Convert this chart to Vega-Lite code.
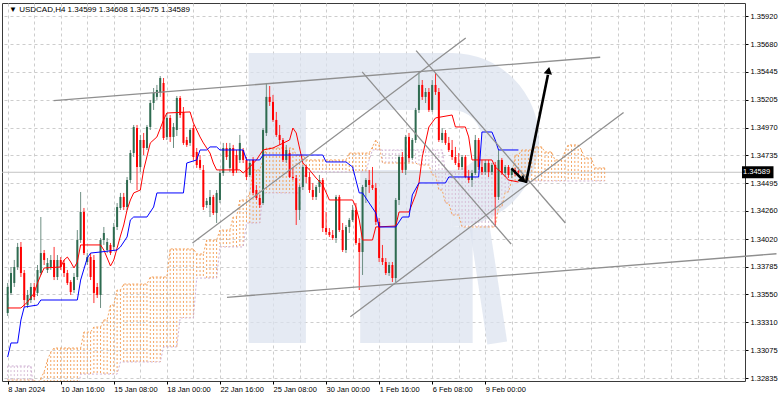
{
"$schema": "https://vega.github.io/schema/vega-lite/v6.json",
"width": 743, "height": 378,
"autosize": {"type": "none"},
"padding": {"left": 2, "top": 3, "right": 37, "bottom": 15},
"background": "white",
"config": {"view": {"stroke": "#3a3a3a", "strokeWidth": 1}, "font": "Liberation Sans",
 "axis": {"labelOverlap": false, "labelFlush": false, "labelBound": false}},
"data": {"values": [{}]},
"datasets": {
"bars": [
{"i":0,"o":1.33390,"h":1.33646,"l":1.33365,"c":1.33612},
{"i":1,"o":1.33561,"h":1.33782,"l":1.33544,"c":1.33731},
{"i":2,"o":1.33646,"h":1.33842,"l":1.33612,"c":1.33782},
{"i":3,"o":1.33782,"h":1.33987,"l":1.33757,"c":1.33953},
{"i":4,"o":1.33953,"h":1.33995,"l":1.33697,"c":1.33731},
{"i":5,"o":1.33731,"h":1.33757,"l":1.33441,"c":1.33501},
{"i":6,"o":1.33458,"h":1.33586,"l":1.33433,"c":1.33544},
{"i":7,"o":1.33501,"h":1.33646,"l":1.33475,"c":1.33612},
{"i":8,"o":1.33612,"h":1.33646,"l":1.33501,"c":1.33527},
{"i":9,"o":1.33561,"h":1.33799,"l":1.33535,"c":1.33757},
{"i":10,"o":1.33731,"h":1.34208,"l":1.33714,"c":1.33901},
{"i":11,"o":1.33901,"h":1.33927,"l":1.33799,"c":1.33842},
{"i":12,"o":1.33757,"h":1.33859,"l":1.33731,"c":1.33816},
{"i":13,"o":1.33782,"h":1.33884,"l":1.33757,"c":1.33842},
{"i":14,"o":1.33842,"h":1.33953,"l":1.33671,"c":1.33697},
{"i":15,"o":1.33697,"h":1.33884,"l":1.33671,"c":1.33842},
{"i":16,"o":1.33842,"h":1.33867,"l":1.33757,"c":1.33782},
{"i":17,"o":1.33816,"h":1.33842,"l":1.33697,"c":1.33731},
{"i":18,"o":1.33731,"h":1.33757,"l":1.33629,"c":1.33646},
{"i":19,"o":1.33654,"h":1.33671,"l":1.33544,"c":1.33569},
{"i":20,"o":1.33586,"h":1.33731,"l":1.33561,"c":1.33697},
{"i":21,"o":1.33697,"h":1.34097,"l":1.33671,"c":1.34012},
{"i":22,"o":1.34012,"h":1.34421,"l":1.33987,"c":1.34251},
{"i":23,"o":1.34251,"h":1.34285,"l":1.33884,"c":1.33901},
{"i":24,"o":1.33825,"h":1.33901,"l":1.33799,"c":1.33867},
{"i":25,"o":1.33867,"h":1.33901,"l":1.33671,"c":1.33697},
{"i":26,"o":1.33842,"h":1.33884,"l":1.33475,"c":1.33561},
{"i":27,"o":1.33612,"h":1.33646,"l":1.33518,"c":1.33544},
{"i":28,"o":1.33544,"h":1.34029,"l":1.33433,"c":1.34012},
{"i":29,"o":1.34012,"h":1.34123,"l":1.33970,"c":1.34072},
{"i":30,"o":1.33927,"h":1.34029,"l":1.33901,"c":1.33995},
{"i":31,"o":1.33970,"h":1.33987,"l":1.33884,"c":1.33901},
{"i":32,"o":1.33953,"h":1.34157,"l":1.33927,"c":1.34123},
{"i":33,"o":1.34123,"h":1.34327,"l":1.34097,"c":1.34293},
{"i":34,"o":1.34285,"h":1.34413,"l":1.34268,"c":1.34379},
{"i":35,"o":1.34379,"h":1.34413,"l":1.34268,"c":1.34293},
{"i":36,"o":1.34293,"h":1.34549,"l":1.34268,"c":1.34523},
{"i":37,"o":1.34523,"h":1.34779,"l":1.34498,"c":1.34753},
{"i":38,"o":1.34753,"h":1.34992,"l":1.34719,"c":1.34975},
{"i":39,"o":1.34966,"h":1.34992,"l":1.34438,"c":1.34634},
{"i":40,"o":1.34634,"h":1.34907,"l":1.34592,"c":1.34864},
{"i":41,"o":1.34864,"h":1.34924,"l":1.34736,"c":1.34796},
{"i":42,"o":1.34796,"h":1.34992,"l":1.34779,"c":1.34975},
{"i":43,"o":1.34975,"h":1.35205,"l":1.34949,"c":1.35179},
{"i":44,"o":1.35179,"h":1.35307,"l":1.35120,"c":1.35265},
{"i":45,"o":1.35231,"h":1.35333,"l":1.35205,"c":1.35290},
{"i":46,"o":1.35265,"h":1.35409,"l":1.35231,"c":1.35392},
{"i":47,"o":1.35350,"h":1.35392,"l":1.34864,"c":1.34881},
{"i":48,"o":1.34890,"h":1.35094,"l":1.34864,"c":1.35052},
{"i":49,"o":1.35052,"h":1.35077,"l":1.34847,"c":1.34890},
{"i":50,"o":1.34890,"h":1.35009,"l":1.34796,"c":1.34975},
{"i":51,"o":1.34949,"h":1.35239,"l":1.34898,"c":1.35222},
{"i":52,"o":1.35222,"h":1.35239,"l":1.35052,"c":1.35077},
{"i":53,"o":1.35103,"h":1.35145,"l":1.34822,"c":1.34839},
{"i":54,"o":1.34864,"h":1.34890,"l":1.34805,"c":1.34822},
{"i":55,"o":1.34839,"h":1.34966,"l":1.34813,"c":1.34949},
{"i":56,"o":1.34966,"h":1.34992,"l":1.34694,"c":1.34719},
{"i":57,"o":1.34762,"h":1.34796,"l":1.34626,"c":1.34651},
{"i":58,"o":1.34694,"h":1.34736,"l":1.34609,"c":1.34626},
{"i":59,"o":1.34609,"h":1.34651,"l":1.34268,"c":1.34293},
{"i":60,"o":1.34310,"h":1.34370,"l":1.34285,"c":1.34345},
{"i":61,"o":1.34310,"h":1.34438,"l":1.34208,"c":1.34379},
{"i":62,"o":1.34379,"h":1.34396,"l":1.34225,"c":1.34242},
{"i":63,"o":1.34242,"h":1.34438,"l":1.34157,"c":1.34413},
{"i":64,"o":1.34353,"h":1.34609,"l":1.34327,"c":1.34583},
{"i":65,"o":1.34583,"h":1.34839,"l":1.34558,"c":1.34796},
{"i":66,"o":1.34796,"h":1.34839,"l":1.34694,"c":1.34719},
{"i":67,"o":1.34626,"h":1.34839,"l":1.34592,"c":1.34796},
{"i":68,"o":1.34796,"h":1.34822,"l":1.34558,"c":1.34583},
{"i":69,"o":1.34736,"h":1.34779,"l":1.34583,"c":1.34609},
{"i":70,"o":1.34694,"h":1.34907,"l":1.34668,"c":1.34839},
{"i":71,"o":1.34779,"h":1.34796,"l":1.34668,"c":1.34694},
{"i":72,"o":1.34694,"h":1.34719,"l":1.34523,"c":1.34549},
{"i":73,"o":1.34566,"h":1.34694,"l":1.34549,"c":1.34668},
{"i":74,"o":1.34694,"h":1.34719,"l":1.34396,"c":1.34413},
{"i":75,"o":1.34438,"h":1.34481,"l":1.34353,"c":1.34370},
{"i":76,"o":1.34370,"h":1.34396,"l":1.34285,"c":1.34310},
{"i":77,"o":1.34327,"h":1.34966,"l":1.34310,"c":1.34949},
{"i":78,"o":1.34924,"h":1.35350,"l":1.34898,"c":1.35231},
{"i":79,"o":1.35231,"h":1.35324,"l":1.35154,"c":1.35188},
{"i":80,"o":1.35188,"h":1.35248,"l":1.35018,"c":1.35035},
{"i":81,"o":1.35035,"h":1.35103,"l":1.34890,"c":1.34907},
{"i":82,"o":1.34907,"h":1.34992,"l":1.34822,"c":1.34864},
{"i":83,"o":1.34864,"h":1.34881,"l":1.34677,"c":1.34694},
{"i":84,"o":1.34694,"h":1.34822,"l":1.34668,"c":1.34779},
{"i":85,"o":1.34753,"h":1.34779,"l":1.34540,"c":1.34549},
{"i":86,"o":1.34549,"h":1.34626,"l":1.34523,"c":1.34540},
{"i":87,"o":1.34540,"h":1.34566,"l":1.34140,"c":1.34268},
{"i":88,"o":1.34268,"h":1.34481,"l":1.34183,"c":1.34464},
{"i":89,"o":1.34464,"h":1.34651,"l":1.34438,"c":1.34634},
{"i":90,"o":1.34634,"h":1.34651,"l":1.34498,"c":1.34549},
{"i":91,"o":1.34549,"h":1.34592,"l":1.34413,"c":1.34438},
{"i":92,"o":1.34438,"h":1.34498,"l":1.34353,"c":1.34379},
{"i":93,"o":1.34379,"h":1.34481,"l":1.34353,"c":1.34464},
{"i":94,"o":1.34464,"h":1.34566,"l":1.34413,"c":1.34523},
{"i":95,"o":1.34523,"h":1.34540,"l":1.34080,"c":1.34114},
{"i":96,"o":1.34114,"h":1.34251,"l":1.34055,"c":1.34080},
{"i":97,"o":1.34080,"h":1.34114,"l":1.34038,"c":1.34055},
{"i":98,"o":1.34055,"h":1.34097,"l":1.34012,"c":1.34029},
{"i":99,"o":1.34029,"h":1.34396,"l":1.33987,"c":1.34379},
{"i":100,"o":1.34379,"h":1.34396,"l":1.34080,"c":1.34097},
{"i":101,"o":1.34097,"h":1.34157,"l":1.33910,"c":1.33927},
{"i":102,"o":1.33927,"h":1.34140,"l":1.33901,"c":1.34123},
{"i":103,"o":1.34123,"h":1.34200,"l":1.34072,"c":1.34183},
{"i":104,"o":1.34183,"h":1.34310,"l":1.34166,"c":1.34268},
{"i":105,"o":1.34268,"h":1.34327,"l":1.33970,"c":1.33987},
{"i":106,"o":1.33987,"h":1.34029,"l":1.33586,"c":1.33910},
{"i":107,"o":1.33910,"h":1.34481,"l":1.33714,"c":1.34464},
{"i":108,"o":1.34464,"h":1.34540,"l":1.34327,"c":1.34523},
{"i":109,"o":1.34523,"h":1.34609,"l":1.34413,"c":1.34481},
{"i":110,"o":1.34481,"h":1.34634,"l":1.34438,"c":1.34455},
{"i":111,"o":1.34455,"h":1.34498,"l":1.34140,"c":1.34166},
{"i":112,"o":1.34166,"h":1.34200,"l":1.33825,"c":1.33859},
{"i":113,"o":1.33859,"h":1.33970,"l":1.33799,"c":1.33825},
{"i":114,"o":1.33825,"h":1.33859,"l":1.33714,"c":1.33731},
{"i":115,"o":1.33731,"h":1.33825,"l":1.33706,"c":1.33799},
{"i":116,"o":1.33799,"h":1.33825,"l":1.33654,"c":1.33688},
{"i":117,"o":1.33688,"h":1.34370,"l":1.33654,"c":1.34353},
{"i":118,"o":1.34353,"h":1.34736,"l":1.34310,"c":1.34719},
{"i":119,"o":1.34719,"h":1.34762,"l":1.34583,"c":1.34609},
{"i":120,"o":1.34609,"h":1.34907,"l":1.34566,"c":1.34890},
{"i":121,"o":1.34890,"h":1.34924,"l":1.34677,"c":1.34711},
{"i":122,"o":1.34711,"h":1.34881,"l":1.34694,"c":1.34864},
{"i":123,"o":1.34864,"h":1.35137,"l":1.34839,"c":1.35120},
{"i":124,"o":1.35120,"h":1.35444,"l":1.35094,"c":1.35333},
{"i":125,"o":1.35333,"h":1.35375,"l":1.35205,"c":1.35231},
{"i":126,"o":1.35231,"h":1.35307,"l":1.35179,"c":1.35273},
{"i":127,"o":1.35273,"h":1.35307,"l":1.35103,"c":1.35120},
{"i":128,"o":1.35120,"h":1.35375,"l":1.35103,"c":1.35333},
{"i":129,"o":1.35333,"h":1.35435,"l":1.35248,"c":1.35273},
{"i":130,"o":1.35273,"h":1.35307,"l":1.34847,"c":1.34864},
{"i":131,"o":1.34864,"h":1.34966,"l":1.34839,"c":1.34924},
{"i":132,"o":1.34924,"h":1.34949,"l":1.34822,"c":1.34839},
{"i":133,"o":1.34839,"h":1.34890,"l":1.34762,"c":1.34779},
{"i":134,"o":1.34779,"h":1.34864,"l":1.34694,"c":1.34719},
{"i":135,"o":1.34719,"h":1.34805,"l":1.34651,"c":1.34668},
{"i":136,"o":1.34668,"h":1.34753,"l":1.34609,"c":1.34634},
{"i":137,"o":1.34634,"h":1.34736,"l":1.34609,"c":1.34719},
{"i":138,"o":1.34719,"h":1.34736,"l":1.34540,"c":1.34549},
{"i":139,"o":1.34549,"h":1.34609,"l":1.34498,"c":1.34523},
{"i":140,"o":1.34523,"h":1.34609,"l":1.34464,"c":1.34583},
{"i":141,"o":1.34583,"h":1.34907,"l":1.34566,"c":1.34864},
{"i":142,"o":1.34864,"h":1.34881,"l":1.34609,"c":1.34634},
{"i":143,"o":1.34634,"h":1.34694,"l":1.34566,"c":1.34592},
{"i":144,"o":1.34592,"h":1.34694,"l":1.34566,"c":1.34668},
{"i":145,"o":1.34668,"h":1.34694,"l":1.34549,"c":1.34592},
{"i":146,"o":1.34592,"h":1.34668,"l":1.34566,"c":1.34651},
{"i":147,"o":1.34651,"h":1.34677,"l":1.34123,"c":1.34379},
{"i":148,"o":1.34379,"h":1.34779,"l":1.34353,"c":1.34694},
{"i":149,"o":1.34694,"h":1.34711,"l":1.34566,"c":1.34583},
{"i":150,"o":1.34583,"h":1.34651,"l":1.34549,"c":1.34634},
{"i":151,"o":1.34634,"h":1.34651,"l":1.34540,"c":1.34566},
{"i":152,"o":1.34566,"h":1.34626,"l":1.34540,"c":1.34609},
{"i":153,"o":1.34609,"h":1.34626,"l":1.34558,"c":1.34575},
{"i":154,"o":1.34599,"h":1.34608,"l":1.34575,"c":1.34589}
],
"cloud": [
{"i":0,"a":1.32819,"b":1.32939},{"i":1,"a":1.32819,"b":1.32939},{"i":2,"a":1.32819,"b":1.32939},{"i":3,"a":1.32819,"b":1.32939},
{"i":4,"a":1.32819,"b":1.32939},{"i":5,"a":1.32819,"b":1.32939},{"i":6,"a":1.32819,"b":1.32939},{"i":7,"a":1.32819,"b":1.32939},
{"i":8,"a":1.32819,"b":1.32692},{"i":9,"a":1.32794,"b":1.32692},{"i":10,"a":1.32836,"b":1.32692},{"i":11,"a":1.32888,"b":1.32692},
{"i":12,"a":1.32990,"b":1.32692},{"i":13,"a":1.33058,"b":1.32692},{"i":14,"a":1.33092,"b":1.32692},{"i":15,"a":1.33092,"b":1.32692},
{"i":16,"a":1.33092,"b":1.32692},{"i":17,"a":1.33092,"b":1.32692},{"i":18,"a":1.33092,"b":1.32692},{"i":19,"a":1.33092,"b":1.32692},
{"i":20,"a":1.33092,"b":1.32692},{"i":21,"a":1.33092,"b":1.32692},{"i":22,"a":1.33092,"b":1.32870},{"i":23,"a":1.33228,"b":1.32870},
{"i":24,"a":1.33228,"b":1.32870},{"i":25,"a":1.33228,"b":1.32870},{"i":26,"a":1.33271,"b":1.32870},{"i":27,"a":1.33271,"b":1.32870},
{"i":28,"a":1.33271,"b":1.32870},{"i":29,"a":1.33331,"b":1.32870},{"i":30,"a":1.33331,"b":1.32870},{"i":31,"a":1.33458,"b":1.32870},
{"i":32,"a":1.33458,"b":1.32870},{"i":33,"a":1.33586,"b":1.32870},{"i":34,"a":1.33586,"b":1.32973},{"i":35,"a":1.33637,"b":1.32973},
{"i":36,"a":1.33637,"b":1.32973},{"i":37,"a":1.33637,"b":1.32973},{"i":38,"a":1.33637,"b":1.32973},{"i":39,"a":1.33637,"b":1.32973},
{"i":40,"a":1.33637,"b":1.32973},{"i":41,"a":1.33637,"b":1.32973},{"i":42,"a":1.33637,"b":1.32973},{"i":43,"a":1.33697,"b":1.32973},
{"i":44,"a":1.33697,"b":1.32973},{"i":45,"a":1.33697,"b":1.32973},{"i":46,"a":1.33697,"b":1.32973},{"i":47,"a":1.33697,"b":1.33101},
{"i":48,"a":1.33697,"b":1.33101},{"i":49,"a":1.33936,"b":1.33101},{"i":50,"a":1.33936,"b":1.33101},{"i":51,"a":1.33936,"b":1.33101},
{"i":52,"a":1.33936,"b":1.33348},{"i":53,"a":1.33936,"b":1.33348},{"i":54,"a":1.33936,"b":1.33348},{"i":55,"a":1.33936,"b":1.33348},
{"i":56,"a":1.33936,"b":1.33348},{"i":57,"a":1.33893,"b":1.33688},{"i":58,"a":1.33893,"b":1.33688},{"i":59,"a":1.33893,"b":1.33688},
{"i":60,"a":1.34012,"b":1.33688},{"i":61,"a":1.34012,"b":1.33688},{"i":62,"a":1.34012,"b":1.33688},{"i":63,"a":1.34012,"b":1.33688},
{"i":64,"a":1.34097,"b":1.33953},{"i":65,"a":1.34097,"b":1.33953},{"i":66,"a":1.34097,"b":1.33953},{"i":67,"a":1.34097,"b":1.33953},
{"i":68,"a":1.34208,"b":1.33953},{"i":69,"a":1.34208,"b":1.33953},{"i":70,"a":1.34353,"b":1.33953},{"i":71,"a":1.34353,"b":1.33953},
{"i":72,"a":1.34353,"b":1.34157},{"i":73,"a":1.34413,"b":1.34157},{"i":74,"a":1.34609,"b":1.34157},{"i":75,"a":1.34609,"b":1.34157},
{"i":76,"a":1.34609,"b":1.34157},{"i":77,"a":1.34694,"b":1.34413},{"i":78,"a":1.34796,"b":1.34413},{"i":79,"a":1.34796,"b":1.34413},
{"i":80,"a":1.34796,"b":1.34413},{"i":81,"a":1.34796,"b":1.34413},{"i":82,"a":1.34796,"b":1.34413},{"i":83,"a":1.34796,"b":1.34413},
{"i":84,"a":1.34796,"b":1.34413},{"i":85,"a":1.34796,"b":1.34413},{"i":86,"a":1.34796,"b":1.34413},{"i":87,"a":1.34736,"b":1.34413},
{"i":88,"a":1.34736,"b":1.34413},{"i":89,"a":1.34736,"b":1.34523},{"i":90,"a":1.34694,"b":1.34592},{"i":91,"a":1.34694,"b":1.34592},
{"i":92,"a":1.34694,"b":1.34592},{"i":93,"a":1.34694,"b":1.34592},{"i":94,"a":1.34694,"b":1.34592},{"i":95,"a":1.34694,"b":1.34592},
{"i":96,"a":1.34694,"b":1.34592},{"i":97,"a":1.34694,"b":1.34592},{"i":98,"a":1.34694,"b":1.34592},{"i":99,"a":1.34694,"b":1.34592},
{"i":100,"a":1.34694,"b":1.34592},{"i":101,"a":1.34694,"b":1.34592},{"i":102,"a":1.34694,"b":1.34592},{"i":103,"a":1.34753,"b":1.34592},
{"i":104,"a":1.34753,"b":1.34592},{"i":105,"a":1.34753,"b":1.34592},{"i":106,"a":1.34753,"b":1.34592},{"i":107,"a":1.34753,"b":1.34592},
{"i":108,"a":1.34753,"b":1.34592},{"i":109,"a":1.34753,"b":1.34694},{"i":110,"a":1.34805,"b":1.34779},{"i":111,"a":1.34864,"b":1.34779},
{"i":112,"a":1.34822,"b":1.34779},{"i":113,"a":1.34668,"b":1.34779},{"i":114,"a":1.34668,"b":1.34779},{"i":115,"a":1.34668,"b":1.34779},
{"i":116,"a":1.34668,"b":1.34779},{"i":117,"a":1.34668,"b":1.34779},{"i":118,"a":1.34668,"b":1.34779},{"i":119,"a":1.34668,"b":1.34779},
{"i":120,"a":1.34668,"b":1.34779},{"i":121,"a":1.34668,"b":1.34779},{"i":122,"a":1.34668,"b":1.34779},{"i":123,"a":1.34668,"b":1.34779},
{"i":124,"a":1.34651,"b":1.34779},{"i":125,"a":1.34651,"b":1.34779},{"i":126,"a":1.34651,"b":1.34779},{"i":127,"a":1.34651,"b":1.34779},
{"i":128,"a":1.34566,"b":1.34779},{"i":129,"a":1.34566,"b":1.34779},{"i":130,"a":1.34438,"b":1.34779},{"i":131,"a":1.34438,"b":1.34779},
{"i":132,"a":1.34327,"b":1.34592},{"i":133,"a":1.34327,"b":1.34592},{"i":134,"a":1.34225,"b":1.34592},{"i":135,"a":1.34225,"b":1.34592},
{"i":136,"a":1.34225,"b":1.34592},{"i":137,"a":1.34123,"b":1.34592},{"i":138,"a":1.34123,"b":1.34592},{"i":139,"a":1.34123,"b":1.34592},
{"i":140,"a":1.34123,"b":1.34592},{"i":141,"a":1.34123,"b":1.34592},{"i":142,"a":1.34123,"b":1.34592},{"i":143,"a":1.34123,"b":1.34592},
{"i":144,"a":1.34123,"b":1.34592},{"i":145,"a":1.34123,"b":1.34592},{"i":146,"a":1.34123,"b":1.34592},{"i":147,"a":1.34123,"b":1.34592},
{"i":148,"a":1.34293,"b":1.34592},{"i":149,"a":1.34293,"b":1.34592},{"i":150,"a":1.34421,"b":1.34592},{"i":151,"a":1.34421,"b":1.34515},
{"i":152,"a":1.34523,"b":1.34515},{"i":153,"a":1.34736,"b":1.34515},{"i":154,"a":1.34736,"b":1.34515},{"i":155,"a":1.34779,"b":1.34515},
{"i":156,"a":1.34779,"b":1.34515},{"i":157,"a":1.34779,"b":1.34515},{"i":158,"a":1.34779,"b":1.34515},{"i":159,"a":1.34805,"b":1.34515},
{"i":160,"a":1.34805,"b":1.34515},{"i":161,"a":1.34805,"b":1.34515},{"i":162,"a":1.34762,"b":1.34515},{"i":163,"a":1.34762,"b":1.34515},
{"i":164,"a":1.34762,"b":1.34515},{"i":165,"a":1.34694,"b":1.34515},{"i":166,"a":1.34694,"b":1.34515},{"i":167,"a":1.34694,"b":1.34515},
{"i":168,"a":1.34762,"b":1.34515},{"i":169,"a":1.34822,"b":1.34515},{"i":170,"a":1.34822,"b":1.34515},{"i":171,"a":1.34822,"b":1.34515},
{"i":172,"a":1.34822,"b":1.34515},{"i":173,"a":1.34779,"b":1.34515},{"i":174,"a":1.34711,"b":1.34515},{"i":175,"a":1.34711,"b":1.34515},
{"i":176,"a":1.34711,"b":1.34515},{"i":177,"a":1.34626,"b":1.34515},{"i":178,"a":1.34626,"b":1.34515},{"i":179,"a":1.34626,"b":1.34515},
{"i":180,"a":1.34626,"b":1.34515}
],
"tenkan": [
{"i":0,"v":1.33433},{"i":4,"v":1.33433},{"i":6,"v":1.33484},{"i":8,"v":1.33561},{"i":9,"v":1.33646},{"i":10,"v":1.33714},
{"i":11,"v":1.33774},{"i":16,"v":1.33782},{"i":17,"v":1.33842},{"i":18,"v":1.33867},{"i":19,"v":1.33825},{"i":20,"v":1.33774},
{"i":21,"v":1.33825},{"i":22,"v":1.33970},{"i":28,"v":1.33970},{"i":29,"v":1.33927},{"i":30,"v":1.33859},{"i":31,"v":1.33791},
{"i":32,"v":1.33842},{"i":33,"v":1.33944},{"i":34,"v":1.34046},{"i":35,"v":1.34140},{"i":36,"v":1.34268},{"i":37,"v":1.34353},
{"i":38,"v":1.34413},{"i":40,"v":1.34438},{"i":41,"v":1.34609},{"i":43,"v":1.34839},{"i":45,"v":1.34890},{"i":47,"v":1.35035},
{"i":48,"v":1.35094},{"i":55,"v":1.35103},{"i":56,"v":1.35009},{"i":58,"v":1.34890},{"i":59,"v":1.34839},{"i":61,"v":1.34753},
{"i":62,"v":1.34668},{"i":63,"v":1.34609},{"i":70,"v":1.34609},{"i":71,"v":1.34583},{"i":73,"v":1.34634},{"i":75,"v":1.34694},
{"i":77,"v":1.34779},{"i":80,"v":1.34796},{"i":85,"v":1.34864},{"i":86,"v":1.34966},{"i":87,"v":1.34924},{"i":89,"v":1.34668},
{"i":91,"v":1.34609},{"i":93,"v":1.34540},{"i":95,"v":1.34481},{"i":97,"v":1.34353},{"i":104,"v":1.34353},{"i":105,"v":1.34293},
{"i":106,"v":1.34183},{"i":107,"v":1.34012},{"i":110,"v":1.34012},{"i":111,"v":1.34123},{"i":117,"v":1.34131},{"i":118,"v":1.34251},
{"i":121,"v":1.34251},{"i":123,"v":1.34396},{"i":124,"v":1.34498},{"i":125,"v":1.34719},{"i":127,"v":1.34975},{"i":129,"v":1.35052},
{"i":134,"v":1.35077},{"i":135,"v":1.34975},{"i":138,"v":1.34975},{"i":139,"v":1.34890},{"i":140,"v":1.34694},{"i":146,"v":1.34694},
{"i":147,"v":1.34634},{"i":149,"v":1.34583},{"i":151,"v":1.34523},{"i":154,"v":1.34506}
],
"kijun": [
{"i":0,"v":1.33015},{"i":1,"v":1.33135},{"i":3,"v":1.33135},{"i":4,"v":1.33331},{"i":5,"v":1.33441},{"i":9,"v":1.33458},
{"i":10,"v":1.33501},{"i":21,"v":1.33501},{"i":22,"v":1.33671},{"i":24,"v":1.33859},{"i":25,"v":1.33901},{"i":28,"v":1.33910},
{"i":33,"v":1.33927},{"i":34,"v":1.33953},{"i":36,"v":1.34038},{"i":37,"v":1.34183},{"i":38,"v":1.34208},{"i":42,"v":1.34208},
{"i":44,"v":1.34293},{"i":45,"v":1.34413},{"i":53,"v":1.34413},{"i":54,"v":1.34668},{"i":57,"v":1.34694},{"i":58,"v":1.34779},
{"i":60,"v":1.34779},{"i":61,"v":1.34805},{"i":63,"v":1.34805},{"i":64,"v":1.34779},{"i":71,"v":1.34779},{"i":72,"v":1.34694},
{"i":76,"v":1.34694},{"i":77,"v":1.34736},{"i":95,"v":1.34736},{"i":96,"v":1.34677},{"i":102,"v":1.34677},{"i":104,"v":1.34634},
{"i":105,"v":1.34523},{"i":106,"v":1.34413},{"i":107,"v":1.34413},{"i":109,"v":1.34327},{"i":111,"v":1.34242},{"i":112,"v":1.34123},
{"i":117,"v":1.34123},{"i":118,"v":1.34166},{"i":119,"v":1.34208},{"i":121,"v":1.34208},{"i":122,"v":1.34396},{"i":124,"v":1.34498},
{"i":132,"v":1.34498},{"i":133,"v":1.34549},{"i":142,"v":1.34549},{"i":143,"v":1.34932},{"i":146,"v":1.34932},{"i":147,"v":1.34864},
{"i":148,"v":1.34779},{"i":154,"v":1.34779}
],
"trend": [
{"g":"a","i":13.87,"v":1.35199},{"g":"a","i":178.65,"v":1.35569},
{"g":"b","i":66.13,"v":1.33524},{"g":"b","i":231.8,"v":1.33895},
{"g":"c","i":55.72,"v":1.33987},{"g":"c","i":138.11,"v":1.35733},
{"g":"d","i":103.31,"v":1.33359},{"g":"d","i":185.7,"v":1.35099},
{"g":"e","i":106.88,"v":1.35444},{"g":"e","i":151.79,"v":1.33978},
{"g":"f","i":123.15,"v":1.35625},{"g":"f","i":168.15,"v":1.34157}
],
"arrows": [
{"g":"s","i":151.88,"v":1.34623},{"g":"s","i":155.6,"v":1.34516},
{"g":"l","i":156.25,"v":1.34498},{"g":"l","i":162.9,"v":1.35420}
],
"heads": [
{"i":155.4,"v":1.34521,"ang":132},
{"i":163.07,"v":1.35456,"ang":11}
]
},
"layer": [
{
"mark": {"type": "rect", "color": "#dbe2ee", "opacity": 0.72},
"encoding": {
"x": {"datum": 72.67, "type": "quantitative", "title": null, "scale": {"domain": [-0.2, 220.8], "nice": false, "zero": false},
 "axis": {"values": [0,8,16,24,32,40,48,56,64,72,80,88,96,104,112,120,128,136,144,152,160,168,176,184,192,200,208,216],
  "tickCount": 100, "title": null, "domain": false, "grid": true, "gridColor": "#cdcdcd", "gridDash": [3, 3],
  "tickSize": 3, "tickColor": "#000000",
  "tickOpacity": {"condition": {"test": "datum.value % 16 == 0 && datum.value <= 144", "value": 1}, "value": 0},
  "labelExpr": "datum.value % 16 == 0 && datum.value <= 144 ? ['8 Jan 2024','10 Jan 16:00','15 Jan 08:00','18 Jan 00:00','22 Jan 16:00','25 Jan 08:00','30 Jan 00:00','1 Feb 16:00','6 Feb 08:00','9 Feb 00:00'][datum.value / 16] : ''",
  "labelAlign": "left", "labelPadding": 1, "labelFont": "Liberation Sans", "labelFontSize": 7.5, "labelColor": "#000000",
  "labelOverlap": false, "labelFlush": false, "labelBound": false}},
"x2": {"datum": 89.92},
"y": {"datum": 1.35605, "type": "quantitative", "title": null, "scale": {"domain": [1.32811, 1.36031], "nice": false, "zero": false},
 "axis": {"orient": "right", "values": [1.32835,1.33075,1.3331,1.3355,1.33785,1.3402,1.3426,1.34495,1.34735,1.3497,1.35205,1.35445,1.3568,1.3592],
  "tickCount": 100, "format": ".5f", "title": null, "domain": false, "grid": true, "gridColor": "#cdcdcd", "gridDash": [3, 3],
  "tickSize": 3, "tickColor": "#000000", "labelPadding": 2, "labelFont": "Liberation Sans", "labelFontSize": 7.5, "labelColor": "#000000",
  "labelBaseline": "middle", "labelOverlap": false, "labelFlush": false, "labelBound": false}},
"y2": {"datum": 1.33135}}
},
{
"mark": {"type": "rect", "color": "#dbe2ee", "opacity": 0.72},
"encoding": {"x": {"datum": 89.92, "type": "quantitative", "title": null}, "x2": {"datum": 133.95}, "y": {"datum": 1.35605, "type": "quantitative", "title": null}, "y2": {"datum": 1.35120}}
},
{
"mark": {"type": "arc", "color": "#dbe2ee", "opacity": 0.72, "theta": 0, "theta2": 3.14159, "radius": 87, "radius2": 30},
"encoding": {"x": {"datum": 133.95, "type": "quantitative", "title": null}, "y": {"datum": 1.34864, "type": "quantitative", "title": null}}
},
{
"mark": {"type": "rect", "color": "#dbe2ee", "opacity": 0.72},
"encoding": {"x": {"datum": 106.28, "type": "quantitative", "title": null}, "x2": {"datum": 133.95}, "y": {"datum": 1.34609, "type": "quantitative", "title": null}, "y2": {"datum": 1.34123}}
},
{
"mark": {"type": "rect", "color": "#dbe2ee", "opacity": 0.72},
"encoding": {"x": {"datum": 106.28, "type": "quantitative", "title": null}, "x2": {"datum": 140.2}, "y": {"datum": 1.34123, "type": "quantitative", "title": null}, "y2": {"datum": 1.33135}}
},
{
"mark": {"type": "rule", "color": "#dbe2ee", "opacity": 0.72, "strokeWidth": 20, "strokeCap": "butt"},
"encoding": {"x": {"datum": 142.3, "type": "quantitative", "title": null}, "x2": {"datum": 147.6}, "y": {"datum": 1.34123, "type": "quantitative", "title": null}, "y2": {"datum": 1.33135}}
},
{
"mark": {"type": "rule", "color": "#c4c4c4", "strokeWidth": 1},
"encoding": {"y": {"datum": 1.34589, "type": "quantitative", "title": null}}
},
{
"data": {"name": "cloud"},
"mark": {"type": "rule", "strokeWidth": 1, "strokeDash": [2, 2], "clip": true},
"encoding": {
"x": {"field": "i", "type": "quantitative", "title": null},
"y": {"field": "a", "type": "quantitative", "title": null},
"y2": {"field": "b"},
"color": {"condition": {"test": "datum.a >= datum.b", "value": "#f4a460"}, "value": "#d8bfd8"}
}
},
{
"data": {"name": "cloud"},
"mark": {"type": "line", "strokeWidth": 1, "strokeDash": [2, 2], "color": "#f4a460", "clip": true},
"encoding": {"x": {"field": "i", "type": "quantitative", "title": null}, "y": {"field": "a", "type": "quantitative", "title": null}}
},
{
"data": {"name": "cloud"},
"mark": {"type": "line", "strokeWidth": 1, "strokeDash": [2, 2], "color": "#cfb0d3", "clip": true},
"encoding": {"x": {"field": "i", "type": "quantitative", "title": null}, "y": {"field": "b", "type": "quantitative", "title": null}}
},
{
"data": {"name": "bars"},
"mark": {"type": "rule", "strokeWidth": 1},
"encoding": {
"x": {"field": "i", "type": "quantitative", "title": null},
"y": {"field": "l", "type": "quantitative", "title": null},
"y2": {"field": "h"},
"color": {"condition": {"test": "datum.c >= datum.o", "value": "#6f8f84"}, "value": "#ff3030"}
}
},
{
"data": {"name": "bars"},
"mark": {"type": "bar", "size": 2},
"encoding": {
"x": {"field": "i", "type": "quantitative", "title": null},
"y": {"field": "o", "type": "quantitative", "title": null},
"y2": {"field": "c"},
"color": {"condition": {"test": "datum.c >= datum.o", "value": "#2e6b50"}, "value": "#ff0000"}
}
},
{
"data": {"name": "tenkan"},
"mark": {"type": "line", "color": "#ff0000", "strokeWidth": 1},
"encoding": {"x": {"field": "i", "type": "quantitative", "title": null}, "y": {"field": "v", "type": "quantitative", "title": null}}
},
{
"data": {"name": "kijun"},
"mark": {"type": "line", "color": "#0000ff", "strokeWidth": 1},
"encoding": {"x": {"field": "i", "type": "quantitative", "title": null}, "y": {"field": "v", "type": "quantitative", "title": null}}
},
{
"data": {"name": "trend"},
"mark": {"type": "line", "color": "#8f8f8f", "strokeWidth": 1.3},
"encoding": {"x": {"field": "i", "type": "quantitative", "title": null}, "y": {"field": "v", "type": "quantitative", "title": null}, "detail": {"field": "g"}}
},
{
"data": {"name": "arrows"},
"mark": {"type": "line", "color": "#000000", "strokeWidth": 2.6},
"encoding": {"x": {"field": "i", "type": "quantitative", "title": null}, "y": {"field": "v", "type": "quantitative", "title": null}, "detail": {"field": "g"}}
},
{
"data": {"name": "heads"},
"mark": {"type": "point", "shape": "triangle-up", "filled": true, "color": "#000000", "size": 70, "opacity": 1},
"encoding": {"x": {"field": "i", "type": "quantitative", "title": null}, "y": {"field": "v", "type": "quantitative", "title": null}, "angle": {"field": "ang", "type": "quantitative", "scale": null}}
},
{
"mark": {"type": "text", "text": "▼ USDCAD,H4  1.34599 1.34608 1.34575 1.34589", "font": "Liberation Sans", "fontSize": 8, "align": "left", "baseline": "middle", "color": "#000000"},
"encoding": {"x": {"datum": 0.4, "type": "quantitative", "title": null}, "y": {"datum": 1.35972, "type": "quantitative", "title": null}}
},
{
"mark": {"type": "rect", "color": "#000000", "clip": false},
"encoding": {"x": {"datum": 221.4, "type": "quantitative", "title": null}, "x2": {"datum": 230.9}, "y": {"datum": 1.34640, "type": "quantitative", "title": null}, "y2": {"datum": 1.34538}}
},
{
"mark": {"type": "text", "text": "1.34589", "font": "Liberation Sans", "fontSize": 7.5, "align": "left", "baseline": "middle", "color": "#ffffff", "dx": 1},
"encoding": {"x": {"datum": 221.4, "type": "quantitative", "title": null}, "y": {"datum": 1.34589, "type": "quantitative", "title": null}}
}
]
}
